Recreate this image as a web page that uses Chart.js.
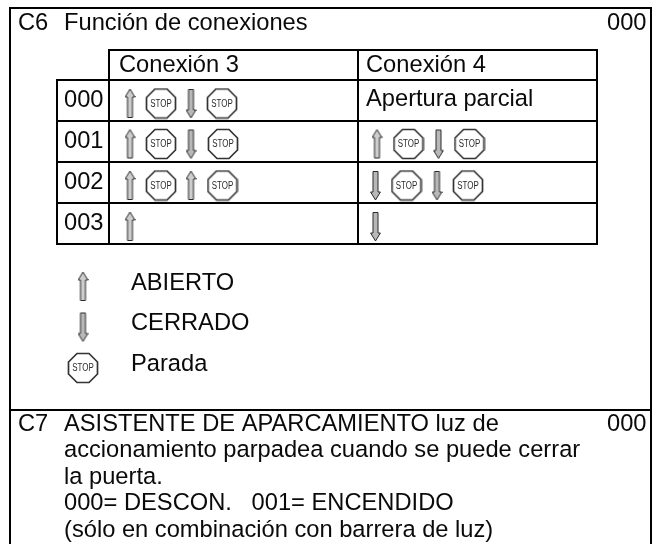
<!DOCTYPE html>
<html lang="es">
<head>
<meta charset="utf-8">
<title>Función de conexiones</title>
<script src="https://cdn.jsdelivr.net/npm/chart.js@4/dist/chart.umd.min.js"></script>
<style>
    html, body { margin: 0; padding: 0; background: #fff; }
    canvas { display: block; }
</style>
</head>
<body>
<canvas id="connectionsChart" width="664" height="544"></canvas>
<script>
// Table content
const rowCodes = ['000', '001', '002', '003'];
const columnNames = ['Conexión 3', 'Conexión 4'];
const connection3Icons = [
    ['up', 'stop', 'down', 'stop'],
    ['up', 'stop', 'down', 'stop'],
    ['up', 'stop', 'up', 'stop'],
    ['up']
];
const connection4Icons = [
    [],
    ['up', 'stop', 'down', 'stop'],
    ['down', 'stop', 'down', 'stop'],
    ['down']
];
const connection4Text = ['Apertura parcial', '', '', ''];
const legendIcons = ['up', 'down', 'stop'];
const legendLabels = ['ABIERTO', 'CERRADO', 'Parada'];
const c6Title = ['C6', 'Función de conexiones', '000'];
const c7Lines = [
    'ASISTENTE DE APARCAMIENTO luz de',
    'accionamiento parpadea cuando se puede cerrar',
    'la puerta.',
    '000= DESCON.   001= ENCENDIDO',
    '(sólo en combinación con barrera de luz)'
];
const c7Code = ['C7', '000'];

// Layout, in the units of the hidden x/y scales
const frame = { left: 10, right: 651, top: 8, bottom: 546, divider: 410 };
const grid = { left: 57, col1: 109, col2: 358, right: 597, top: 50, header: 80, rowHeight: 41 };
const iconRowY = [103.5, 144, 185.5, 226.5];
const iconColX3 = [[130, 161, 191, 222], [130, 161, 191, 223], [130, 161, 191, 222.5], [130]];
const iconColX4 = [[], [377, 408.5, 438.5, 469.5], [375.5, 406.5, 437, 468], [375.5]];
const legendX = 83;
const legendY = [286.5, 327, 368];
const fontSize = 23.7;

function line(x1, y1, x2, y2) {
    return {
        data: [{ x: x1, y: y1 }, { x: x2, y: y2 }],
        borderColor: '#000',
        borderWidth: 2,
        borderCapStyle: 'square',
        pointRadius: 0,
        showLine: true,
        clip: false
    };
}

// Point images for the arrows and the stop sign
function arrowImage(up) {
    const c = document.createElement('canvas');
    c.width = 11;
    c.height = 31;
    const g = c.getContext('2d');
    const shape = [[3, 9], [0.6, 9], [5.5, 1], [10.4, 9], [8, 9], [8, 29.5], [3, 29.5]];
    g.beginPath();
    shape.forEach(p => g.lineTo(p[0], up ? p[1] : 31 - p[1]));
    g.closePath();
    g.fillStyle = up ? '#cdcdcd' : '#b8b8b8';
    g.fill();
    g.strokeStyle = '#2a2a2a';
    g.lineWidth = 1;
    g.stroke();
    return c;
}

function stopImage() {
    const c = document.createElement('canvas');
    c.width = 32;
    c.height = 32;
    const g = c.getContext('2d');
    const a = 1.5, b = 10, d = 22, e = 30.5;
    const shape = [[b, a], [d, a], [e, b], [e, d], [d, e], [b, e], [a, d], [a, b]];
    g.beginPath();
    shape.forEach(p => g.lineTo(p[0], p[1]));
    g.closePath();
    g.fillStyle = '#fff';
    g.fill();
    g.strokeStyle = '#333';
    g.lineWidth = 1.7;
    g.stroke();
    return c;
}

const images = { up: arrowImage(true), down: arrowImage(false), stop: stopImage() };

// Collect the icon positions per kind
const iconPoints = { up: [], down: [], stop: [] };
function addIcons(rows, xs) {
    rows.forEach((icons, r) => {
        icons.forEach((kind, i) => iconPoints[kind].push({ x: xs[r][i], y: iconRowY[r] }));
    });
}
addIcons(connection3Icons, iconColX3);
addIcons(connection4Icons, iconColX4);
legendIcons.forEach((kind, i) => iconPoints[kind].push({ x: legendX, y: legendY[i] }));

function iconDataset(kind) {
    return {
        data: iconPoints[kind],
        pointStyle: images[kind],
        showLine: false,
        clip: false
    };
}

// Rules of the frame and of the table
const gridBottom = grid.header + rowCodes.length * grid.rowHeight;
const rules = [
    line(frame.left, frame.top, frame.right, frame.top),
    line(frame.left, frame.top, frame.left, frame.bottom),
    line(frame.right, frame.top, frame.right, frame.bottom),
    line(frame.left, frame.divider, frame.right, frame.divider),
    line(grid.col1, grid.top, grid.right, grid.top),
    line(grid.left, grid.header, grid.right, grid.header),
    line(grid.left, grid.header, grid.left, gridBottom),
    line(grid.col1, grid.top, grid.col1, gridBottom),
    line(grid.col2, grid.top, grid.col2, gridBottom),
    line(grid.right, grid.top, grid.right, gridBottom)
];
rowCodes.forEach((code, i) => {
    const y = grid.header + (i + 1) * grid.rowHeight;
    rules.push(line(grid.left, y, grid.right, y));
});

// Texts are placed through the same scales as the marks
const textPlugin = {
    id: 'tableText',
    afterDatasetsDraw(chart) {
        const ctx = chart.ctx;
        const x = chart.scales.x;
        const y = chart.scales.y;

        function put(text, px, py) {
            ctx.fillText(text, x.getPixelForValue(px), y.getPixelForValue(py));
        }

        ctx.save();
        ctx.fillStyle = '#0a0a0a';
        ctx.textAlign = 'left';
        ctx.textBaseline = 'alphabetic';
        ctx.font = fontSize + 'px "Liberation Sans", Arial, sans-serif';

        put(c6Title[0], 18, 30);
        put(c6Title[1], 64, 30);
        put(c6Title[2], 607, 30);

        put(columnNames[0], 119, 71.5);
        put(columnNames[1], 366, 71.5);
        [107, 148, 189, 229.5].forEach((py, i) => put(rowCodes[i], 64, py));
        put(connection4Text[0], 366, 106);

        [289.5, 330, 371].forEach((py, i) => put(legendLabels[i], 131, py));

        put(c7Code[0], 18, 431);
        put(c7Code[1], 607, 431);
        [431, 457, 484, 510, 537].forEach((py, i) => put(c7Lines[i], 64, py));

        // Text inside the stop signs
        ctx.font = '10px "Liberation Sans", Arial, sans-serif';
        ctx.fillStyle = '#2a2a2a';
        ctx.textAlign = 'center';
        ctx.textBaseline = 'middle';
        iconPoints.stop.forEach(p => {
            ctx.fillText('STOP', x.getPixelForValue(p.x), y.getPixelForValue(p.y) + 0.5, 21.5);
        });
        ctx.restore();
    }
};

new Chart(document.getElementById('connectionsChart'), {
    type: 'scatter',
    data: {
        datasets: rules.concat([iconDataset('up'), iconDataset('down'), iconDataset('stop')])
    },
    options: {
        responsive: false,
        animation: false,
        layout: { padding: 0, autoPadding: false },
        plugins: {
            legend: { display: false },
            tooltip: { enabled: false }
        },
        scales: {
            x: { type: 'linear', min: 0, max: 664, display: false },
            y: { type: 'linear', min: 0, max: 544, reverse: true, display: false }
        }
    },
    plugins: [textPlugin]
});
</script>
</body>
</html>
